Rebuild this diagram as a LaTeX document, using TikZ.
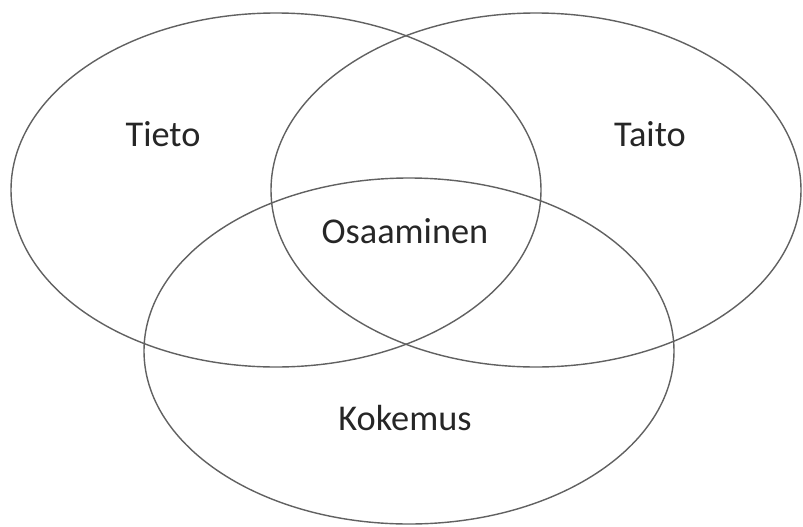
\documentclass[tikz,border=0pt]{standalone}
\usepackage{fontspec}
\setmainfont{Carlito}
\begin{document}
\begin{tikzpicture}[x=0.03cm, y=-0.03cm,
        set/.style={draw=black!62, line width=1.2pt},
        label/.style={font=\fontsize{31}{36}\selectfont, text=black!85}
    ]
        \useasboundingbox (0,0) rectangle (803,526);
        % three sets
        \draw[set] (276,190) ellipse [x radius=265, y radius=177];
        \draw[set] (536,190) ellipse [x radius=265, y radius=177];
        \draw[set] (409,351) ellipse [x radius=265, y radius=173];
        % labels
        \node[label] (tieto) at (163,134) {Tieto};
        \node[label] (taito) at (650,134) {Taito};
        \node[label] (osaaminen) at (405,231) {Osaaminen};
        \node[label] (kokemus) at (405,418) {Kokemus};
    \end{tikzpicture}
\end{document}
